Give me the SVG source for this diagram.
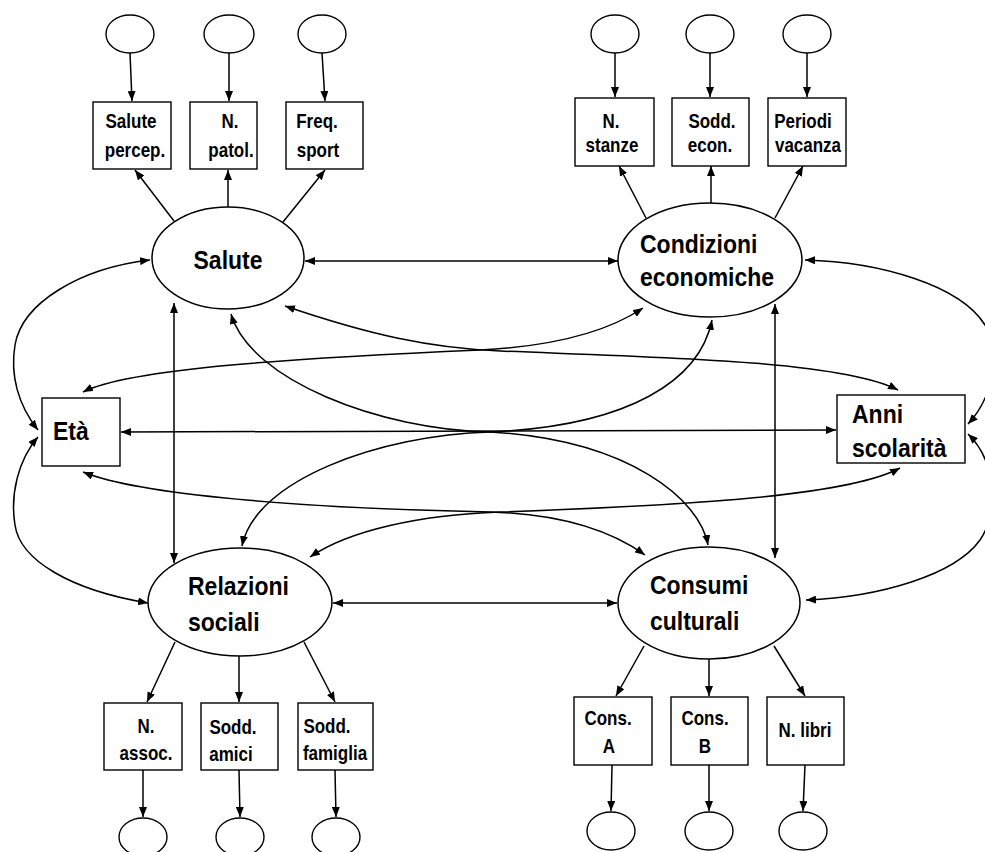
<svg xmlns="http://www.w3.org/2000/svg" width="985" height="852" viewBox="0 0 985 852">
  <style>
    .lat { fill: #fff; stroke: #000; stroke-width: 1.5; }
    .err { fill: #fff; stroke: #000; stroke-width: 1.4; }
    .obs { fill: #fff; stroke: #000; stroke-width: 1.4; }
    .big { font-family: "Liberation Sans", Arial, sans-serif; font-weight: bold; font-size: 23px; fill: #000; }
    .small { font-family: "Liberation Sans", Arial, sans-serif; font-weight: bold; font-size: 17px; fill: #000; text-anchor: middle; }
    .c1 { fill: none; stroke: #000; stroke-width: 1.5; marker-end: url(#ah); }
    .c2 { fill: none; stroke: #000; stroke-width: 1.5; marker-start: url(#ah); marker-end: url(#ah); }
  </style>
  <defs>
    <marker id="ah" viewBox="0 0 10 8" refX="10" refY="4" markerWidth="10" markerHeight="8" markerUnits="userSpaceOnUse" orient="auto-start-reverse">
      <path d="M0,0 L10,4 L0,8 z" fill="#000"/>
    </marker>
  </defs>
  <rect width="985" height="852" fill="#fff"/>

  <g id="connectors">
    <!-- error terms to indicators -->
    <path class="c1" d="M130,53 L132,101"/>
    <path class="c1" d="M229,53 L229,101"/>
    <path class="c1" d="M322,53 L325,101"/>
    <path class="c1" d="M615,53 L615,97"/>
    <path class="c1" d="M710,53 L710,97"/>
    <path class="c1" d="M807,53 L807,97"/>
    <path class="c1" d="M143,770 L143,817"/>
    <path class="c1" d="M239,770 L240,817"/>
    <path class="c1" d="M335,770 L336,817"/>
    <path class="c1" d="M612,765 L611,811"/>
    <path class="c1" d="M709,765 L709,811"/>
    <path class="c1" d="M805,765 L803,811"/>

    <!-- loadings -->
    <path class="c1" d="M174,221 L135,170"/>
    <path class="c1" d="M228,207 L228,170"/>
    <path class="c1" d="M283,222 L325,170"/>
    <path class="c1" d="M646,218 L619,166"/>
    <path class="c1" d="M711,203 L711,166"/>
    <path class="c1" d="M775,218 L803,166"/>
    <path class="c1" d="M175,642 L147,702"/>
    <path class="c1" d="M239,656 L239,702"/>
    <path class="c1" d="M304,642 L335,702"/>
    <path class="c1" d="M644,646 L616,696"/>
    <path class="c1" d="M709,659 L709,696"/>
    <path class="c1" d="M774,646 L805,696"/>

    <!-- covariances -->
    <path class="c2" d="M305,261 L618,261"/>
    <path class="c2" d="M333,603 L617,603"/>
    <path class="c2" d="M174,303 L174,563"/>
    <path class="c2" d="M775,304 L775,558"/>
    <path class="c2" d="M121,432 L836,430"/>

    <path class="c2" d="M38,430 C18,405 10,375 15,345 C22,303 80,268 150,260"/>
    <path class="c2" d="M38,437 C18,460 10,495 15,525 C20,560 70,590 148,603"/>
    <path class="c2" d="M805,260 C880,262 960,285 985,325 C1000,350 995,395 968,424"/>
    <path class="c2" d="M968,434 C995,460 1000,510 980,540 C955,575 880,597 806,600"/>

    <path class="c2" d="M285,306 C370,335 430,348 500,351 C650,357 840,360 898,390"/>
    <path class="c2" d="M83,392 C130,368 300,358 480,350 C560,346 610,330 643,308"/>
    <path class="c2" d="M83,472 C140,495 300,508 490,512 C560,514 610,530 645,555"/>
    <path class="c2" d="M310,557 C350,530 420,515 500,512 C700,505 850,495 900,468"/>

    <path class="c2" d="M231,314 C250,380 380,430 490,432 C630,440 700,500 708,545"/>
    <path class="c2" d="M242,546 C255,480 380,435 490,432 C630,426 700,380 712,320"/>
  </g>

  <!-- error terms -->
  <g id="e1"><ellipse class="err" cx="130" cy="34" rx="24" ry="19"/></g>
  <g id="e2"><ellipse class="err" cx="229" cy="34" rx="25" ry="19"/></g>
  <g id="e3"><ellipse class="err" cx="322" cy="34" rx="24" ry="19"/></g>
  <g id="e4"><ellipse class="err" cx="615" cy="34" rx="24" ry="19"/></g>
  <g id="e5"><ellipse class="err" cx="710" cy="34" rx="24" ry="19"/></g>
  <g id="e6"><ellipse class="err" cx="807" cy="34" rx="24" ry="19"/></g>
  <g id="e7"><ellipse class="err" cx="143" cy="837" rx="24" ry="19"/></g>
  <g id="e8"><ellipse class="err" cx="240" cy="837" rx="24" ry="19"/></g>
  <g id="e9"><ellipse class="err" cx="336" cy="837" rx="24" ry="19"/></g>
  <g id="e10"><ellipse class="err" cx="611" cy="831" rx="24" ry="19"/></g>
  <g id="e11"><ellipse class="err" cx="709" cy="831" rx="24" ry="19"/></g>
  <g id="e12"><ellipse class="err" cx="803" cy="831" rx="24" ry="19"/></g>

  <!-- indicators (labels slightly stretched vertically) -->
  <g id="salute-percep">
    <rect class="obs" x="93" y="102" width="78" height="67"/>
    <text class="small" transform="translate(131,128) scale(1,1.2)">Salute</text>
    <text class="small" transform="translate(135,157) scale(1,1.2)">percep.</text>
  </g>
  <g id="n-patol">
    <rect class="obs" x="190" y="102" width="67" height="67"/>
    <text class="small" transform="translate(230,128) scale(1,1.2)">N.</text>
    <text class="small" transform="translate(231,157) scale(1,1.2)">patol.</text>
  </g>
  <g id="freq-sport">
    <rect class="obs" x="286" y="102" width="77" height="67"/>
    <text class="small" transform="translate(317,128) scale(1,1.2)">Freq.</text>
    <text class="small" transform="translate(318,157) scale(1,1.2)">sport</text>
  </g>
  <g id="n-stanze">
    <rect class="obs" x="575" y="98" width="79" height="68"/>
    <text class="small" transform="translate(611,128) scale(1,1.2)">N.</text>
    <text class="small" transform="translate(612,152) scale(1,1.2)">stanze</text>
  </g>
  <g id="sodd-econ">
    <rect class="obs" x="672" y="98" width="77" height="68"/>
    <text class="small" transform="translate(712,128) scale(1,1.2)">Sodd.</text>
    <text class="small" transform="translate(710,152) scale(1,1.2)">econ.</text>
  </g>
  <g id="periodi-vacanza">
    <rect class="obs" x="768" y="98" width="78" height="68"/>
    <text class="small" transform="translate(803,128) scale(1,1.2)">Periodi</text>
    <text class="small" transform="translate(808,152) scale(1,1.2)">vacanza</text>
  </g>
  <g id="n-assoc">
    <rect class="obs" x="104" y="703" width="78" height="67"/>
    <text class="small" transform="translate(146,733) scale(1,1.2)">N.</text>
    <text class="small" transform="translate(146,760) scale(1,1.2)">assoc.</text>
  </g>
  <g id="sodd-amici">
    <rect class="obs" x="201" y="703" width="77" height="67"/>
    <text class="small" transform="translate(233,734) scale(1,1.2)">Sodd.</text>
    <text class="small" transform="translate(231,761) scale(1,1.2)">amici</text>
  </g>
  <g id="sodd-famiglia">
    <rect class="obs" x="298" y="703" width="75" height="67"/>
    <text class="small" transform="translate(327,733) scale(1,1.2)">Sodd.</text>
    <text class="small" transform="translate(335,760) scale(1,1.2)">famiglia</text>
  </g>
  <g id="cons-a">
    <rect class="obs" x="574" y="697" width="78" height="68"/>
    <text class="small" transform="translate(608,725) scale(1,1.2)">Cons.</text>
    <text class="small" transform="translate(609,753) scale(1,1.2)">A</text>
  </g>
  <g id="cons-b">
    <rect class="obs" x="671" y="697" width="77" height="68"/>
    <text class="small" transform="translate(705,725) scale(1,1.2)">Cons.</text>
    <text class="small" transform="translate(705,753) scale(1,1.2)">B</text>
  </g>
  <g id="n-libri">
    <rect class="obs" x="767" y="697" width="77" height="68"/>
    <text class="small" transform="translate(805,737) scale(1,1.2)">N. libri</text>
  </g>

  <!-- observed covariates -->
  <g id="eta">
    <rect class="obs" x="42" y="398" width="78" height="68"/>
    <text class="big" font-size="24" transform="translate(53,440) scale(1,1.15)">Età</text>
  </g>
  <g id="anni-scolarita">
    <rect class="obs" x="837" y="395" width="128" height="68"/>
    <text class="big" transform="translate(852,423) scale(1,1.15)">Anni</text>
    <text class="big" transform="translate(852,457) scale(1,1.15)">scolarità</text>
  </g>

  <!-- latent factors -->
  <g id="salute">
    <ellipse class="lat" cx="228" cy="258" rx="76" ry="51"/>
    <text class="big" text-anchor="middle" font-size="24" transform="translate(228,269) scale(1,1.15)">Salute</text>
  </g>
  <g id="condizioni-economiche">
    <ellipse class="lat" cx="710" cy="260" rx="92" ry="57"/>
    <text class="big" transform="translate(640,253) scale(1,1.15)">Condizioni</text>
    <text class="big" transform="translate(640,286) scale(1,1.15)">economiche</text>
  </g>
  <g id="relazioni-sociali">
    <ellipse class="lat" cx="240" cy="602" rx="92" ry="54"/>
    <text class="big" transform="translate(188,595) scale(1,1.15)">Relazioni</text>
    <text class="big" transform="translate(188,631) scale(1,1.15)">sociali</text>
  </g>
  <g id="consumi-culturali">
    <ellipse class="lat" cx="709" cy="603" rx="91" ry="56"/>
    <text class="big" transform="translate(650,594) scale(1,1.15)">Consumi</text>
    <text class="big" transform="translate(650,630) scale(1,1.15)">culturali</text>
  </g>
</svg>
